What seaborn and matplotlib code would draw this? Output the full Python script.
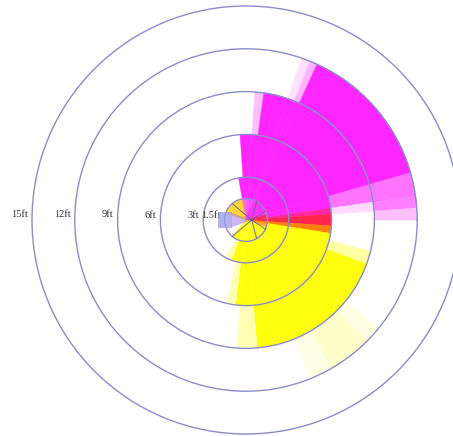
import numpy as np
import matplotlib
matplotlib.use("Agg")
import matplotlib.pyplot as plt
import seaborn as sns
from matplotlib.patches import Rectangle, Polygon

sns.set_theme(style="white")
plt.rcParams['font.family'] = ['Liberation Serif', 'DejaVu Serif']

# rings (ft) and the labelled range circles
ring_edges = [0, 1.5, 3, 6, 9, 12]
circle_ft = [1.5, 3, 6, 9, 12, 15]
circle_labels = ['1.5ft', '3ft', '6ft', '9ft', '12ft', '15ft']

# angular bins (degrees, 0 = right, counter-clockwise)
bin_start = [160, 100, 94, 86, 82, 71, 68, 65.5, 16, 8, 4, 0, -4, -9, -14,
             -20, -39, -45, -60, -68, -85, -94, -97, -103, -110, -118]
bin_end = [100, 94, 86, 82, 71, 68, 65.5, 16, 8, 4, 0, -4, -9, -14, -20,
           -39, -45, -60, -68, -85, -94, -97, -103, -110, -118, -130]

# coverage level per bin and ring (0-1.5, 1.5-3, 3-6, 6-9, 9-12 ft)
magenta = [
    [.15, 0, 0, 0, 0],
    [.6, .85, 0, 0, 0],
    [.6, .85, .85, 0, 0],
    [.7, .85, .85, .25, 0],
    [.7, .85, .85, .85, 0],
    [.8, .85, .85, .85, .12],
    [.8, .85, .85, .85, .3],
    [.8, .85, .85, .85, .85],
    [.85, .85, .85, .55, .55],
    [.85, .85, .85, .15, .5],
    [.85, .85, .85, 0, .25],
    [.85, .85, .85, 0, 0],
    [.5, .5, .5, 0, 0],
    [.4, 0, 0, 0, 0],
    [.3, 0, 0, 0, 0],
    [0, 0, 0, 0, 0],
    [0, 0, 0, 0, 0],
    [0, 0, 0, 0, 0],
    [0, 0, 0, 0, 0],
    [0, 0, 0, 0, 0],
    [0, 0, 0, 0, 0],
    [0, 0, 0, 0, 0],
    [0, 0, 0, 0, 0],
    [0, 0, 0, 0, 0],
    [0, 0, 0, 0, 0],
    [0, 0, 0, 0, 0],
]
yellow = [
    [.8, 0, 0, 0, 0],
    [.2, 0, 0, 0, 0],
    [0, 0, 0, 0, 0],
    [0, 0, 0, 0, 0],
    [0, 0, 0, 0, 0],
    [0, 0, 0, 0, 0],
    [0, 0, 0, 0, 0],
    [0, 0, 0, 0, 0],
    [.5, 0, 0, 0, 0],
    [.7, .35, .35, 0, 0],
    [.7, .7, .7, 0, 0],
    [.7, .7, .7, 0, 0],
    [.9, .95, .95, 0, 0],
    [.9, .95, .95, 0, 0],
    [.9, .95, .95, .35, 0],
    [.9, .95, .95, .95, 0],
    [.9, .95, .95, .95, .1],
    [.9, .95, .95, .95, .2],
    [.9, .95, .95, .95, .1],
    [.9, .95, .95, .95, 0],
    [.9, .95, .95, .3, 0],
    [.9, .95, .95, 0, 0],
    [.9, .95, .3, 0, 0],
    [.9, .95, 0, 0, 0],
    [.9, .3, 0, 0, 0],
    [.9, 0, 0, 0, 0],
]

W, H = 453, 436
cx, cy, rpx = 246, 220, 214
rect = [(cx - rpx) / W, (H - cy - rpx) / H, 2 * rpx / W, 2 * rpx / H]

fig = plt.figure(figsize=(W / 100, H / 100), dpi=100)
ax = fig.add_axes(rect, projection='polar')
grid_col = '#8c8cc8'

for s, e, mrow, yrow in zip(bin_start, bin_end, magenta, yellow):
    for j, (m, y) in enumerate(zip(mrow, yrow)):
        if m == 0 and y == 0:
            continue
        col = (1, 1 - m, 1 - y)
        ax.bar(np.deg2rad((s + e) / 2), ring_edges[j + 1] - ring_edges[j],
               width=np.deg2rad(abs(s - e)), bottom=ring_edges[j],
               color=col, edgecolor=col, linewidth=0.3)

ax.set_ylim(0, 15)
ax.set_xticks([])
ax.set_yticks(circle_ft[:-1])
ax.set_yticklabels([])
ax.set_axisbelow(False)
ax.yaxis.grid(True, color=grid_col, linewidth=1.0)
ax.spines['polar'].set_color(grid_col)
ax.spines['polar'].set_linewidth(1.0)

for r, lab in zip(circle_ft, circle_labels):
    ax.annotate(lab, xy=(np.pi, r), xytext=(-4, 5), textcoords='offset pixels',
                ha='right', va='center', fontsize=7.5, color='#333333',
                annotation_clip=False)

# small sensor icon in the middle
ax2 = fig.add_axes(rect, facecolor='none')
ax2.set_xlim(-15, 15)
ax2.set_ylim(-15, 15)
ax2.axis('off')
ax2.add_patch(Rectangle((-1.96, -0.56), 0.98, 1.12, color='#9a9ae6', alpha=0.75, lw=0))
ax2.add_patch(Polygon([(-1.0, 0.5), (-1.0, -0.5), (0.4, 0)], closed=True,
                      color='#a070e0', alpha=0.5, lw=0))
for a in [130, 60, 25, -25, -60, -130]:
    t = np.deg2rad(a)
    ax2.plot([0.4, 1.5 * np.cos(t)], [0, 1.5 * np.sin(t)], color='#6a5a9a', lw=0.8, alpha=0.8)

fig.savefig('out.png', dpi=100)
